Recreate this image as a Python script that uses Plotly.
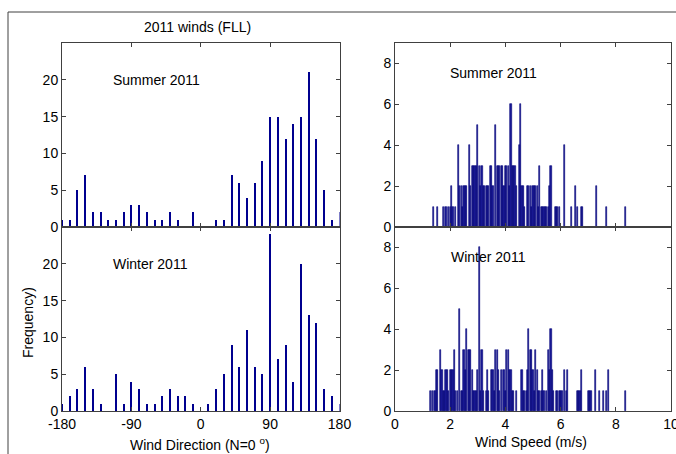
import plotly.graph_objects as go
from plotly.subplots import make_subplots

W, H = 676, 454

# ---- Wind direction histograms (10-degree bins) ----
dir_bins = [-180, -170, -160, -150, -140, -130, -120, -110, -100, -90,
            -80, -70, -60, -50, -40, -30, -20, -10, 0, 10,
            20, 30, 40, 50, 60, 70, 80, 90, 100, 110,
            120, 130, 140, 150, 160, 170, 180]
summer_dir = [1, 1, 5, 7, 2, 2, 1, 1, 2, 3,
              3, 2, 1, 1, 2, 1, 0, 2, 0, 0,
              1, 1, 7, 6, 4, 6, 9, 15, 15, 12,
              14, 15, 21, 12, 5, 1, 2]
winter_dir = [1, 2, 3, 6, 3, 1, 0, 5, 1, 4,
              3, 1, 1, 2, 3, 2, 2, 1, 0, 1,
              3, 5, 9, 6, 11, 6, 5, 24, 7, 9,
              4, 20, 13, 12, 3, 2, 1]

# ---- Wind speed histograms (fine bins, m/s) ----
summer_speed = [1.40, 1.55, 1.75, 1.85, 1.95, 2.00, 2.05, 2.10, 2.20, 2.30,
                2.35, 2.40, 2.45, 2.50, 2.55, 2.60, 2.70, 2.75, 2.80, 2.85,
                2.90, 2.95, 3.00, 3.05, 3.10, 3.15, 3.20, 3.25, 3.30, 3.35,
                3.40, 3.45, 3.50, 3.55, 3.65, 3.70, 3.75, 3.80, 3.85, 3.90,
                3.95, 4.00, 4.05, 4.10, 4.15, 4.20, 4.25, 4.30, 4.35, 4.40,
                4.50, 4.55, 4.60, 4.65, 4.70, 4.80, 4.85, 4.90, 4.95, 5.00,
                5.05, 5.10, 5.15, 5.20, 5.25, 5.30, 5.35, 5.40, 5.45, 5.50,
                5.55, 5.60, 5.65, 5.80, 5.85, 5.90, 5.95, 6.15, 6.40, 6.55,
                6.60, 6.75, 6.80, 7.30, 7.65, 8.35]
summer_count = [1, 1, 1, 1, 1, 1, 2, 1, 1, 4,
                2, 2, 1, 2, 2, 2, 4, 2, 3, 3,
                3, 3, 5, 3, 2, 3, 2, 2, 2, 2,
                2, 3, 3, 2, 5, 3, 3, 3, 3, 3,
                2, 3, 3, 3, 2, 6, 3, 3, 3, 2,
                4, 6, 2, 2, 1, 2, 2, 2, 1, 2,
                2, 2, 2, 1, 3, 1, 1, 1, 1, 1,
                1, 2, 3, 1, 1, 1, 1, 4, 1, 2,
                1, 1, 1, 2, 1, 1]

winter_speed = [1.30, 1.35, 1.45, 1.50, 1.55, 1.65, 1.70, 1.75, 1.80, 1.85,
                1.90, 1.95, 2.00, 2.05, 2.10, 2.15, 2.20, 2.25, 2.35, 2.40,
                2.45, 2.50, 2.55, 2.60, 2.65, 2.70, 2.75, 2.80, 2.85, 2.90,
                2.95, 3.00, 3.05, 3.10, 3.15, 3.20, 3.30, 3.35, 3.40, 3.50,
                3.55, 3.60, 3.65, 3.70, 3.75, 3.80, 3.85, 3.95, 4.00, 4.05,
                4.10, 4.15, 4.20, 4.25, 4.30, 4.40, 4.60, 4.65, 4.70, 4.75,
                4.80, 4.85, 4.90, 4.95, 5.00, 5.05, 5.10, 5.15, 5.20, 5.25,
                5.30, 5.35, 5.40, 5.50, 5.55, 5.60, 5.65, 5.70, 5.75, 5.85,
                5.90, 5.95, 6.00, 6.05, 6.15, 6.20, 6.25, 6.60, 6.65, 6.70,
                6.75, 7.00, 7.05, 7.10, 7.25, 7.40, 7.55, 7.65, 7.75, 8.35]
winter_count = [1, 1, 1, 2, 2, 3, 2, 1, 1, 2,
                2, 1, 2, 2, 2, 3, 1, 1, 5, 1,
                1, 3, 2, 4, 3, 3, 3, 2, 1, 1,
                1, 2, 8, 1, 3, 1, 1, 2, 1, 2,
                2, 1, 3, 3, 2, 1, 2, 2, 1, 3,
                3, 2, 2, 1, 1, 1, 2, 1, 1, 1,
                2, 4, 3, 3, 2, 1, 3, 2, 1, 1,
                1, 2, 1, 1, 3, 2, 4, 2, 1, 1,
                1, 1, 1, 1, 2, 1, 2, 1, 1, 1,
                2, 1, 1, 1, 2, 1, 1, 1, 2, 1]

dir_ticks = [-180, -90, 0, 90, 180]
dir_ticktext = ["-180", "-90", "0", "90", "180"]
dir_yticks = [0, 5, 10, 15, 20]
spd_ticks = [0, 2, 4, 6, 8, 10]
spd_yticks = [0, 2, 4, 6, 8]

FONT = "Liberation Sans, Arial, sans-serif"
FS = 14
DIR_COLOR = "#00008f"
SPD_COLOR = "#1a1a96"
SPD_EDGE = "#000078"

fig = make_subplots(rows=2, cols=2)

fig.add_trace(go.Bar(x=dir_bins, y=summer_dir, width=2.6, marker=dict(color=DIR_COLOR, line=dict(width=0))), row=1, col=1)
fig.add_trace(go.Bar(x=dir_bins, y=winter_dir, width=2.6, marker=dict(color=DIR_COLOR, line=dict(width=0))), row=2, col=1)
fig.add_trace(go.Bar(x=summer_speed, y=summer_count, width=0.042,
                     marker=dict(color=SPD_COLOR, line=dict(width=0.6, color=SPD_EDGE))), row=1, col=2)
fig.add_trace(go.Bar(x=winter_speed, y=winter_count, width=0.042,
                     marker=dict(color=SPD_COLOR, line=dict(width=0.6, color=SPD_EDGE))), row=2, col=2)

def px(x):
    return x / W

def py(y):
    return 1 - y / H

xl = [px(62), px(339.5)]
xr = [px(395), px(671)]
yt = [py(227), py(43)]
yb = [py(411), py(227)]

axis_common = dict(showline=True, linecolor="#404040", linewidth=1, mirror="allticks",
                   ticks="inside", ticklen=4, tickcolor="#404040", showgrid=False,
                   zeroline=False, automargin=False, ticklabeloverflow="allow",
                   tickfont=dict(family=FONT, size=FS, color="black"))

fig.update_layout(
    xaxis=dict(domain=xl, range=[-180, 180], tickvals=dir_ticks, showticklabels=False, **axis_common),
    yaxis=dict(domain=yt, range=[0, 25], tickvals=dir_yticks, **axis_common),
    xaxis2=dict(domain=xr, range=[0, 10], tickvals=spd_ticks, showticklabels=False, **axis_common),
    yaxis2=dict(domain=yt, range=[0, 9], tickvals=spd_yticks, **axis_common),
    xaxis3=dict(domain=xl, range=[-180, 180], tickvals=dir_ticks, ticktext=dir_ticktext, **axis_common),
    yaxis3=dict(domain=yb, range=[0, 25], tickvals=dir_yticks, **axis_common),
    xaxis4=dict(domain=xr, range=[0, 10], tickvals=spd_ticks, **axis_common),
    yaxis4=dict(domain=yb, range=[0, 9], tickvals=spd_yticks, **axis_common),
)

def ann(text, x, y, size=FS, **kw):
    fig.add_annotation(text=text, x=px(x), y=py(y), xref="paper", yref="paper",
                       showarrow=False, font=dict(family=FONT, size=size, color="black"),
                       xanchor="center", yanchor="middle", **kw)

ann("2011 winds (FLL)", 197, 27)
ann("Summer 2011", 156, 80)
ann("Summer 2011", 494, 73)
ann("Winter 2011", 150, 264)
ann("Winter 2011", 488, 257)
ann("Frequency)", 28, 323, textangle=-90)
ann("Wind Direction (N=0 <sup>o</sup>)", 200, 444)
ann("Wind Speed (m/s)", 531, 442)

fig.add_shape(type="line", xref="paper", yref="paper", x0=px(8), x1=1.0, y0=py(12), y1=py(12),
              line=dict(color="#404040", width=1))
fig.add_shape(type="line", xref="paper", yref="paper", x0=px(8), x1=px(8), y0=py(12), y1=0,
              line=dict(color="#404040", width=1))

fig.update_layout(
    width=W, height=H, margin=dict(l=0, r=0, t=0, b=0, autoexpand=False),
    paper_bgcolor="white", plot_bgcolor="white", showlegend=False,
    bargap=0, font=dict(family=FONT, size=FS, color="black"),
)

fig.write_html("out.html", config={"displayModeBar": False},
               post_script="document.body.style.margin='0';document.body.style.overflow='hidden';")
